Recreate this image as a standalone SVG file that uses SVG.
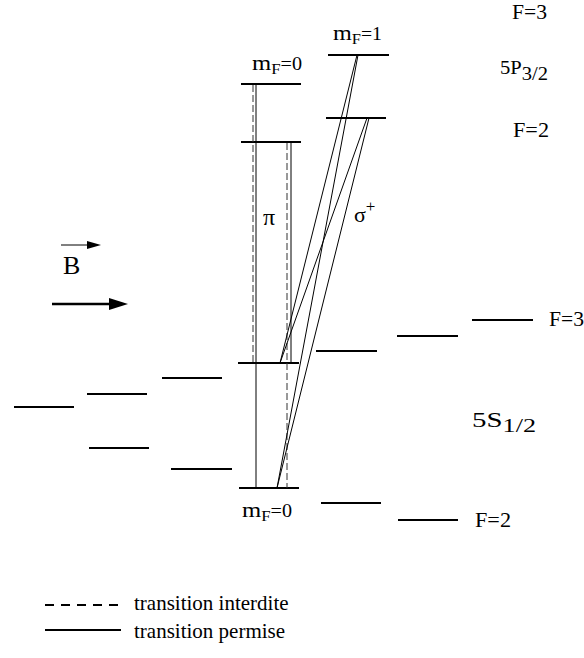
<svg xmlns="http://www.w3.org/2000/svg" width="584" height="658" viewBox="0 0 584 658">
<style>
.lvl{stroke:#000;stroke-width:2.2;fill:none}
.ok{stroke:#000;stroke-width:1;fill:none}
.no{stroke:#333;stroke-width:1;stroke-dasharray:7 3;fill:none}
.lbl text{font-family:'Liberation Serif','Times New Roman',serif;fill:#000}
.t{font-size:21px}
.m{font-size:22px}
.s{font-size:15px}
.e{font-size:18px}
</style>
<rect width="584" height="658" fill="#fff"/>
<!-- upper levels 5P3/2 -->
<g id="P3_m0"><line class="lvl" x1="241" y1="84" x2="301" y2="84"/></g>
<g id="P3_m1"><line class="lvl" x1="328" y1="55" x2="389" y2="55"/></g>
<g id="P2_m0"><line class="lvl" x1="241" y1="142" x2="301" y2="142"/></g>
<g id="P2_m1"><line class="lvl" x1="326" y1="118" x2="386" y2="118"/></g>
<!-- lower levels 5S1/2 F=3 -->
<g id="S3_mm3"><line class="lvl" x1="14" y1="407" x2="74" y2="407"/></g>
<g id="S3_mm2"><line class="lvl" x1="87" y1="394" x2="147" y2="394"/></g>
<g id="S3_mm1"><line class="lvl" x1="162" y1="378" x2="222" y2="378"/></g>
<g id="S3_m0"><line class="lvl" x1="238" y1="363" x2="299" y2="363"/></g>
<g id="S3_m1"><line class="lvl" x1="316" y1="351" x2="377" y2="351"/></g>
<g id="S3_m2"><line class="lvl" x1="397" y1="336" x2="458" y2="336"/></g>
<g id="S3_m3"><line class="lvl" x1="472" y1="320" x2="533" y2="320"/></g>
<!-- lower levels F=2 -->
<g id="S2_mm2"><line class="lvl" x1="89" y1="448" x2="149" y2="448"/></g>
<g id="S2_mm1"><line class="lvl" x1="171" y1="469" x2="232" y2="469"/></g>
<g id="S2_m0"><line class="lvl" x1="239" y1="488" x2="299" y2="488"/></g>
<g id="S2_m1"><line class="lvl" x1="321" y1="503" x2="381" y2="503"/></g>
<g id="S2_m2"><line class="lvl" x1="398" y1="520" x2="458" y2="520"/></g>
<!-- transitions -->
<g id="connectors">
<line class="no" x1="253" y1="85" x2="253" y2="363"/>
<line class="ok" x1="256" y1="85" x2="256" y2="488"/>
<line class="no" x1="287" y1="143" x2="287" y2="488"/>
<line class="ok" x1="291" y1="143" x2="291" y2="363"/>
<line class="ok" x1="280" y1="363" x2="357" y2="55"/>
<line class="ok" x1="277" y1="488" x2="358" y2="55"/>
<line class="ok" x1="280" y1="363" x2="367" y2="118"/>
<line class="ok" x1="277" y1="488" x2="369" y2="118"/>
</g>
<!-- labels -->
<g class="lbl" font-family="'Liberation Serif','Times New Roman',serif">
<text x="252" y="70" textLength="50" lengthAdjust="spacingAndGlyphs"><tspan class="m">m</tspan><tspan class="s" dy="4">F</tspan><tspan class="e" dy="-4">=0</tspan></text>
<text x="333" y="40" textLength="49" lengthAdjust="spacingAndGlyphs"><tspan class="m">m</tspan><tspan class="s" dy="4">F</tspan><tspan class="e" dy="-4">=1</tspan></text>
<text x="242" y="517" textLength="50" lengthAdjust="spacingAndGlyphs"><tspan class="m">m</tspan><tspan class="s" dy="4">F</tspan><tspan class="e" dy="-4">=0</tspan></text>
<text class="t" x="512" y="19" textLength="35" lengthAdjust="spacingAndGlyphs">F=3</text>
<text x="500" y="74" textLength="48" lengthAdjust="spacingAndGlyphs"><tspan style="font-size:19px">5P</tspan><tspan style="font-size:19px" dy="6">3/2</tspan></text>
<text class="t" x="513" y="137" textLength="36" lengthAdjust="spacingAndGlyphs">F=2</text>
<text class="t" x="549" y="326" textLength="35" lengthAdjust="spacingAndGlyphs">F=3</text>
<text x="472" y="427" textLength="64" lengthAdjust="spacingAndGlyphs"><tspan style="font-size:21px">5S</tspan><tspan style="font-size:19px" dy="5">1/2</tspan></text>
<text class="t" x="475" y="527" textLength="36" lengthAdjust="spacingAndGlyphs">F=2</text>
<text x="263" y="225" style="font-size:24px">π</text>
<text x="354" y="222" style="font-size:22px">σ<tspan style="font-size:17px" dy="-10">+</tspan></text>
<text x="63" y="274" style="font-size:26px">B</text>
<text class="t" x="134" y="610">transition interdite</text>
<text class="t" x="134" y="638">transition permise</text>
</g>
<!-- B field -->
<line class="ok" x1="61" y1="245" x2="90" y2="245"/>
<polygon points="87,241 101,245 87,249" fill="#000"/>
<line stroke="#000" stroke-width="2.6" x1="52" y1="304" x2="112" y2="304"/>
<polygon points="109,298 128,304 109,310" fill="#000"/>
<!-- legend -->
<line stroke="#000" stroke-width="2" stroke-dasharray="9 7" x1="45" y1="605" x2="118" y2="605"/>
<line stroke="#000" stroke-width="2" x1="45" y1="630" x2="121" y2="630"/>
</svg>
